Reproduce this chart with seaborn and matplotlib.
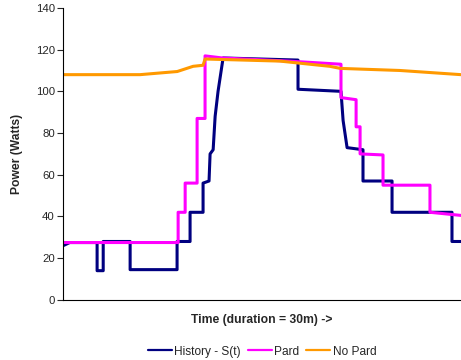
import matplotlib
matplotlib.use("Agg")
import matplotlib.pyplot as plt
import seaborn as sns

# values (time in minutes, power in watts)
history_t = [0, 0.5, 2.56, 2.56, 3.02, 3.02, 5.05, 5.05, 8.59, 8.59, 9.57, 9.57,
             10.55, 10.55, 11.0, 11.08, 11.31, 11.46, 11.68, 12.06, 17.71, 17.71,
             20.95, 21.11, 21.41, 22.61, 22.61, 24.80, 24.80, 29.32, 29.32, 30]
history_w = [26, 27.5, 27.5, 14, 14, 28, 28, 14.5, 14.5, 28, 28, 42,
             42, 56, 57, 70, 72, 88, 100, 116, 115, 101,
             100, 86, 73, 72, 57, 57, 42, 42, 28, 28]

pard_t = [0, 8.67, 8.67, 9.2, 9.2, 10.1, 10.1, 10.7, 10.7, 12, 17, 20.95, 20.95,
          22.09, 22.09, 22.39, 22.39, 24.12, 24.12, 27.66, 27.66, 30]
pard_w = [27.5, 27.5, 42, 42, 56, 56, 87, 87, 117, 116, 114.5, 113, 97,
          96, 83, 83, 70, 69.5, 55, 55, 42, 40.5]

nopard_t = [0, 5.8, 8.6, 9.8, 10.55, 10.7, 16.35, 20.1, 20.9, 25.4, 30]
nopard_w = [108, 108, 109.5, 112, 112.5, 115.5, 114.5, 112, 111, 110, 108]

names = ["History - S(t)", "Pard", "No Pard"]
colors = ["#000080", "#FF00FF", "#FF9900"]

sns.set_style("white")
plt.rcParams["font.family"] = ["Liberation Sans", "DejaVu Sans"]

fig, ax = plt.subplots(figsize=(4.61, 3.6), dpi=100)
fig.subplots_adjust(left=0.137, right=1.0, top=0.978, bottom=0.167)

for t, w, name, c in zip([history_t, pard_t, nopard_t],
                         [history_w, pard_w, nopard_w], names, colors):
    sns.lineplot(x=t, y=w, ax=ax, color=c, label=name, sort=False,
                 estimator=None, linewidth=2.2)

ax.set_xlim(0, 30)
ax.set_ylim(0, 140)
ax.set_yticks(range(0, 141, 20))
ax.set_xticks([])
ax.tick_params(axis="y", direction="out", length=4, width=0.8, labelsize=8.2,
               left=True, pad=2)
for s in ["top", "right"]:
    ax.spines[s].set_visible(False)
for s in ["left", "bottom"]:
    ax.spines[s].set_color("black")
    ax.spines[s].set_linewidth(0.8)

ax.set_ylabel("Power (Watts)", fontsize=8.7, fontweight="bold", labelpad=9)
ax.set_xlabel("Time (duration = 30m) ->", fontsize=8.7, fontweight="bold", labelpad=10)

leg = ax.legend(loc="upper center", bbox_to_anchor=(0.5, -0.12), ncol=3, frameon=False,
                fontsize=8.6, handlelength=2.0, columnspacing=0.6, handletextpad=0.2)
for line in leg.get_lines():
    line.set_linewidth(1.6)

fig.savefig("out.png", dpi=100)
